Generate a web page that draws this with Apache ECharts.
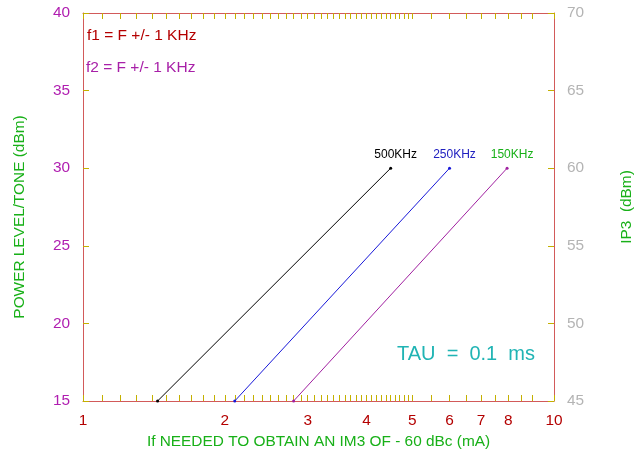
<!DOCTYPE html>
<html>
<head>
<meta charset="utf-8">
<script src="https://cdn.jsdelivr.net/npm/echarts@6/dist/echarts.min.js"></script>
<style>
html,body{margin:0;padding:0;background:#fff;}
#chart{width:634px;height:456px;}
</style>
</head>
<body>
<div id="chart"></div>
<script>
// ---- data ----
var seriesNames = ['500KHz', '250KHz', '150KHz'];
var currentMA500 = [1.44, 4.5];
var currentMA250 = [2.1, 6.0];
var currentMA150 = [2.8, 7.95];
var powerDBm = [15, 30];
var xLabelValues = [1, 2, 3, 4, 5, 6, 7, 8, 10];
var xTickValues = [1, 1.1, 1.2, 1.3, 1.4, 1.5, 1.6, 1.7, 1.8, 1.9, 2.0,
  2.1, 2.2, 2.3, 2.4, 2.5, 2.6, 2.7, 2.8, 2.9, 3.0,
  3.1, 3.2, 3.3, 3.4, 3.5, 3.6, 3.7, 3.8, 3.9, 4.0,
  4.1, 4.2, 4.3, 4.4, 4.5, 4.6, 4.7, 4.8, 4.9, 5.0,
  5.5, 6.0, 6.5, 7.0, 7.5, 8.0, 8.5, 9.0, 10];
var leftY = {min: 15, max: 40, step: 5};
var rightY = {min: 45, max: 70, step: 5};

var FONT = 'Liberation Sans, Arial, sans-serif';
var FRAME = '#d25a5a';
var TICK = '#c4b000';

function pairs(xs, ys) { return xs.map(function (x, i) { return [x, ys[i]]; }); }

var lineColors = ['#000000', '#1818d8', '#a020a0'];
var labelColors = ['#000000', '#2020c0', '#18b018'];
var xsets = [currentMA500, currentMA250, currentMA150];

var series = seriesNames.map(function (n, k) {
  return {
    name: n, type: 'line', xAxisIndex: 0, yAxisIndex: 0,
    data: pairs(xsets[k], powerDBm),
    symbol: 'circle', symbolSize: 3, showSymbol: true,
    lineStyle: {color: lineColors[k], width: 1},
    itemStyle: {color: lineColors[k]},
    animation: false,
    label: {
      show: true, position: 'top', distance: 6, offset: [5, 0],
      color: labelColors[k], fontFamily: FONT, fontSize: 12,
      formatter: function (p) { return p.dataIndex === powerDBm.length - 1 ? p.seriesName : ''; }
    }
  };
});

var xCommon = {
  type: 'log', logBase: 10, min: 1, max: 10,
  axisLine: {show: true, lineStyle: {color: FRAME, width: 1}},
  axisTick: {show: true, inside: true, length: 6, customValues: xTickValues, lineStyle: {color: TICK, width: 1}},
  splitLine: {show: false}, minorTick: {show: false}
};

var option = {
  backgroundColor: '#ffffff',
  animation: false,
  grid: {left: 83, right: 80, top: 13, bottom: 55, outerBoundsMode: 'none', containLabel: false},
  xAxis: [
    Object.assign({}, xCommon, {
      position: 'bottom',
      name: 'If NEEDED TO OBTAIN AN IM3 OF - 60 dBc (mA)',
      nameLocation: 'middle', nameGap: 33,
      nameTextStyle: {color: '#18b018', fontSize: 15.4, fontFamily: FONT},
      axisLabel: {show: true, customValues: xLabelValues, color: '#b40000', fontSize: 15.4, fontFamily: FONT, margin: 12,
        formatter: function (v) { return String(Math.round(v)); }}
    }),
    Object.assign({}, xCommon, {
      position: 'top',
      axisLabel: {show: false}
    })
  ],
  yAxis: [
    {
      type: 'value', position: 'left', min: leftY.min, max: leftY.max, interval: leftY.step,
      name: 'POWER LEVEL/TONE (dBm)', nameLocation: 'middle', nameGap: 56, nameRotate: 90,
      nameTextStyle: {color: '#18b018', fontSize: 15.4, fontFamily: FONT, padding: [0, 20, 0, 0]},
      axisLine: {show: true, lineStyle: {color: FRAME, width: 1}},
      axisTick: {show: true, inside: true, length: 6, lineStyle: {color: TICK, width: 1}},
      axisLabel: {color: '#b01eb0', fontSize: 15.4, fontFamily: FONT, margin: 13},
      splitLine: {show: false}
    },
    {
      type: 'value', position: 'right', min: rightY.min, max: rightY.max, interval: rightY.step,
      name: 'IP3  (dBm)', nameLocation: 'middle', nameGap: 65, nameRotate: 90,
      nameTextStyle: {color: '#18b018', fontSize: 15.4, fontFamily: FONT},
      axisLine: {show: true, lineStyle: {color: FRAME, width: 1}},
      axisTick: {show: true, inside: true, length: 6, lineStyle: {color: TICK, width: 1}},
      axisLabel: {color: '#b4b4b4', fontSize: 15.4, fontFamily: FONT, margin: 13},
      splitLine: {show: false}
    }
  ],
  graphic: [
    {type: 'text', left: 87, top: 28, style: {text: 'f1 = F +/- 1 KHz', fill: '#b40000', font: '15.5px ' + FONT}},
    {type: 'text', left: 86, top: 60, style: {text: 'f2 = F +/- 1 KHz', fill: '#a820a8', font: '15.5px ' + FONT}},
    {type: 'text', left: 397, top: 344, style: {text: 'TAU  =  0.1  ms', fill: '#20b4b4', font: '20px ' + FONT}}
  ],
  series: series
};

var chart = echarts.init(document.getElementById('chart'), null, {renderer: 'canvas'});
chart.setOption(option);
</script>
</body>
</html>
